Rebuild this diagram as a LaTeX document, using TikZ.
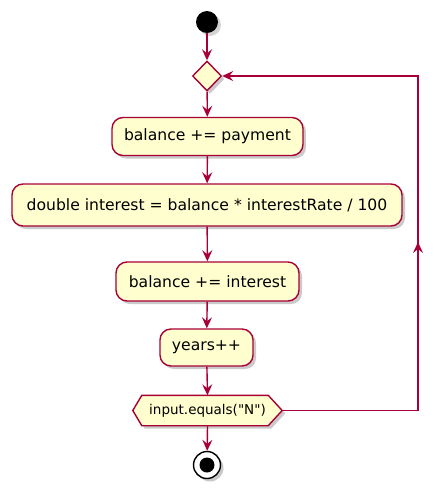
\documentclass[tikz,border=0pt]{standalone}
\usepackage{fontspec}
\setmainfont{DejaVu Sans}[Ligatures=TeXOff]
\usetikzlibrary{arrows.meta,shapes.geometric,shadows,backgrounds}
\definecolor{umlred}{HTML}{A80036}
\definecolor{umlfill}{HTML}{FEFECE}
\tikzset{
  x=1pt,y=-1pt,
  shad/.style={drop shadow={shadow xshift=3pt,shadow yshift=-3pt,opacity=0.35,fill=black!60}},
  act/.style={draw=umlred,fill=umlfill,line width=1.4pt,rounded corners=11pt,minimum height=38pt,inner xsep=12pt,font=\fontsize{15.6}{18}\selectfont,shad},
  flow/.style={draw=umlred,line width=1.4pt,-{Stealth[length=11pt,width=10pt,inset=4pt]}},
  line/.style={draw=umlred,line width=1.4pt},
}
\begin{document}
\begin{tikzpicture}
\useasboundingbox (0,0) rectangle (448,491);
\node[circle,fill=black,minimum size=22pt,inner sep=0pt,drop shadow={shadow xshift=3pt,shadow yshift=-3pt,opacity=0.35}] (start) at (207,22) {};
\node[diamond,draw=umlred,fill=umlfill,line width=1.4pt,minimum width=29pt,minimum height=30pt,inner sep=0pt,shad] (d) at (207,76) {};
\node[act,minimum width=190pt] (a1) at (207.5,136.5) {balance += payment};
\node[act,minimum width=390pt,minimum height=42pt] (a2) at (207,205) {double interest = balance * interestRate / 100};
\node[act,minimum width=183pt,minimum height=39pt] (a3) at (207.5,281.5) {balance += interest};
\node[act,minimum width=89pt,minimum height=37pt] (a4) at (206.5,347.5) {years++};
\node[minimum width=149pt,minimum height=30pt,inner sep=0pt,font=\fontsize{13.5}{16}\selectfont] (h) at (207.5,410.5) {input.equals("N")};
\begin{scope}[on background layer]
\draw[line,fill=umlfill,shad] (h.west) -- ([xshift=9pt]h.north west) -- ([xshift=-14pt]h.north east) -- (h.east) -- ([xshift=-14pt]h.south east) -- ([xshift=9pt]h.south west) -- cycle;
\end{scope}
\node[circle,draw=black,fill=white,line width=1.4pt,minimum size=27pt,inner sep=0pt,shad] (end) at (207,465) {};
\node[circle,fill=black,minimum size=15pt,inner sep=0pt] (endin) at (end) {};
\coordinate (r1) at (418,410.5);
\coordinate (r2) at (418,76);
\coordinate (rm) at (418,242);
\draw[flow] (start) -- (d);
\draw[flow] (d) -- (a1);
\draw[flow] (a1) -- (a2);
\draw[flow] (a2) -- (a3);
\draw[flow] (a3) -- (a4);
\draw[flow] (a4) -- (h.north);
\draw[flow] (h.south) -- (end);
\draw[line] (h.east) -- (r1) -- (rm);
\draw[flow] (r1) -- (rm);
\draw[flow] (rm) -- (r2) -- (d.east);
\end{tikzpicture}
\end{document}
